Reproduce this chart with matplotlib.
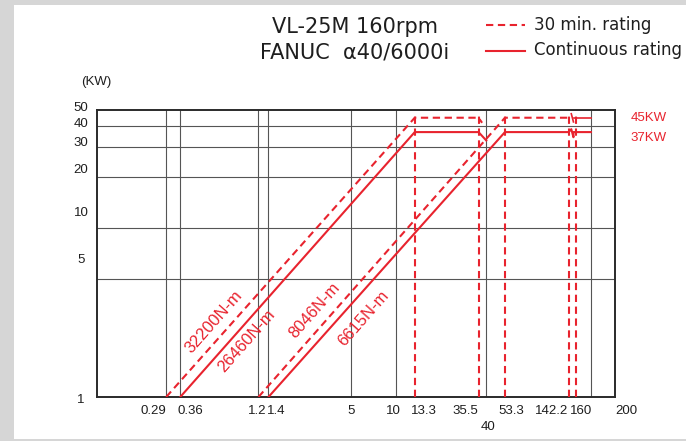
import numpy as np
import matplotlib
matplotlib.use("Agg")
import matplotlib.pyplot as plt
from matplotlib.patches import Rectangle

plt.rcParams['font.family'] = ['Liberation Sans', 'DejaVu Sans']

RED = '#e8232e'
GRID = '#555555'
TXT = '#1e1e1e'

# 30 min. rating, low gear / high gear (rpm, kW)
dash_low_rpm = [0.29, 13.3, 35.5, 37.5]
dash_low_kw = [1, 45, 45, 42]
dash_high_rpm = [1.2, 53.3, 142.2]
dash_high_kw = [1, 45, 45]
dash_kink_rpm = [148, 153]
dash_kink_kw = [47.5, 42.5]
dash_tail_rpm = [155, 200]
dash_tail_kw = [45, 45]

# continuous rating
cont_low_rpm = [0.36, 13.3, 35.5, 40]
cont_low_kw = [1, 37, 37, 33]
cont_high_rpm = [1.4, 53.3, 142.2, 148, 153, 153, 200]
cont_high_kw = [1, 37, 37, 38.5, 34.5, 37, 37]

# vertical dashed markers (rpm) and their top
vlines_rpm = [13.3, 35.5, 53.3, 142.2, 160]
vline_top = 48

# grid
xgrid = [0.29, 0.36, 1.2, 1.4, 5, 10, 40, 200]
ygrid = [5, 10, 20, 30, 40]

# tick labels: (text, position)
xlab_text = ['0.29', '0.36', '1.2', '1.4', '5', '10', '13.3', '35.5', '53.3', '142.2', '160', '200']
xlab_pos = [0.2375, 0.42, 1.18, 1.575, 5.0, 9.55, 15.2, 28.9, 58.4, 108.8, 172, 346]
xlab2_text = ['40']
xlab2_pos = [41.1]
ylab_text = ['50', '40', '30', '20', '10', '5', '1']
ylab_pos = [51.4, 41.3, 31.9, 22.1, 12.3, 6.47, 0.96]

# torque labels
torque_text = ['32200N-m', '26460N-m', '8046N-m', '6615N-m']
torque_rpm = [0.60, 1.0, 2.85, 6.05]
torque_kw = [2.80, 2.15, 3.25, 2.92]

W, H = 686, 441
fig = plt.figure(figsize=(W / 100, H / 100), dpi=100, facecolor='#d6d6d6')
fig.patches.append(Rectangle((14 / W, 2 / H), 1, 434 / H, transform=fig.transFigure,
                             facecolor='white', edgecolor='none', zorder=-5))

ax = fig.add_axes([97 / W, 1 - 397 / H, 518 / W, 287 / H])
ax.set_zorder(2)
ax.set_xscale('log')
ax.set_yscale('log')
ax.set_xlim(0.1, 290)
ax.set_ylim(1, 50)
ax.set_facecolor('white')
for s in ax.spines.values():
    s.set_color('#2a2a2a')
    s.set_linewidth(1.4)
ax.set_xticks([])
ax.set_yticks([])
ax.minorticks_off()
ax.tick_params(which='both', length=0, labelbottom=False, labelleft=False)

for x in xgrid:
    ax.axvline(x, color=GRID, lw=0.8, zorder=1)
for y in ygrid:
    ax.axhline(y, color=GRID, lw=0.8, zorder=1)

dash = dict(color=RED, lw=1.5, ls=(0, (3.5, 2.2)), zorder=3)
solid = dict(color=RED, lw=1.5, zorder=3)

ax.plot(dash_low_rpm, dash_low_kw, **dash)
ax.plot(dash_high_rpm, dash_high_kw, **dash)
ax.plot(dash_kink_rpm, dash_kink_kw, color=RED, lw=1.2, zorder=3)
ax.plot(dash_tail_rpm, dash_tail_kw, color=RED, lw=1.2, zorder=3)
ax.plot(cont_low_rpm, cont_low_kw, **solid)
ax.plot(cont_high_rpm, cont_high_kw, **solid)
for x in vlines_rpm:
    ax.plot([x, x], [1, vline_top], **dash)

# tick labels
xt = ax.get_xaxis_transform()
for t, p in zip(xlab_text, xlab_pos):
    ax.text(p, -0.049, t, transform=xt, ha='center', va='center', fontsize=9.5,
            color=TXT, clip_on=False)
for t, p in zip(xlab2_text, xlab2_pos):
    ax.text(p, -0.104, t, transform=xt, ha='center', va='center', fontsize=9.5,
            color=TXT, clip_on=False)
yt = ax.get_yaxis_transform()
for t, p in zip(ylab_text, ylab_pos):
    ax.text(-0.031, p, t, transform=yt, ha='center', va='center', fontsize=9.5,
            color=TXT, clip_on=False)
ax.text(-0.002, 1 + 28 / 287, '(KW)', transform=ax.transAxes, ha='center', va='center',
        fontsize=9.5, color=TXT)

# right labels
ax.text(1.03, 45, '45KW', transform=yt, ha='left', va='center', fontsize=9.5,
        color=RED, clip_on=False)
ax.text(1.03, 34.3, '37KW', transform=yt, ha='left', va='center', fontsize=9.5,
        color=RED, clip_on=False)

# torque labels, rotated along the lines
fig.canvas.draw()
p0 = ax.transData.transform((1, 1))
p1 = ax.transData.transform((10, 10))
ang = np.degrees(np.arctan2(p1[1] - p0[1], p1[0] - p0[0]))
for t, x, y in zip(torque_text, torque_rpm, torque_kw):
    ax.text(x, y, t, rotation=ang, rotation_mode='anchor', ha='center', va='center',
            fontsize=12, color=RED, zorder=4)

# title and legend
head = dict(family='DejaVu Sans', color=TXT)
fig.text(355 / W, 1 - 27 / H, 'VL-25M 160rpm', ha='center', va='center', fontsize=15, **head)
fig.text(355 / W, 1 - 52 / H, 'FANUC  \u03b140/6000i', ha='center', va='center', fontsize=15,
         **head)
fig.lines.append(plt.Line2D([486 / W, 525 / W], [1 - 25 / H, 1 - 25 / H], transform=fig.transFigure,
                            color=RED, lw=1.5, ls=(0, (3.5, 2.2))))
fig.lines.append(plt.Line2D([486 / W, 525 / W], [1 - 51 / H, 1 - 51 / H], transform=fig.transFigure,
                            color=RED, lw=1.5))
fig.text(534 / W, 1 - 25 / H, '30 min. rating', ha='left', va='center', fontsize=12, **head)
fig.text(534 / W, 1 - 50 / H, 'Continuous rating', ha='left', va='center', fontsize=12, **head)

fig.savefig('out.png', dpi=100, facecolor=fig.get_facecolor())
